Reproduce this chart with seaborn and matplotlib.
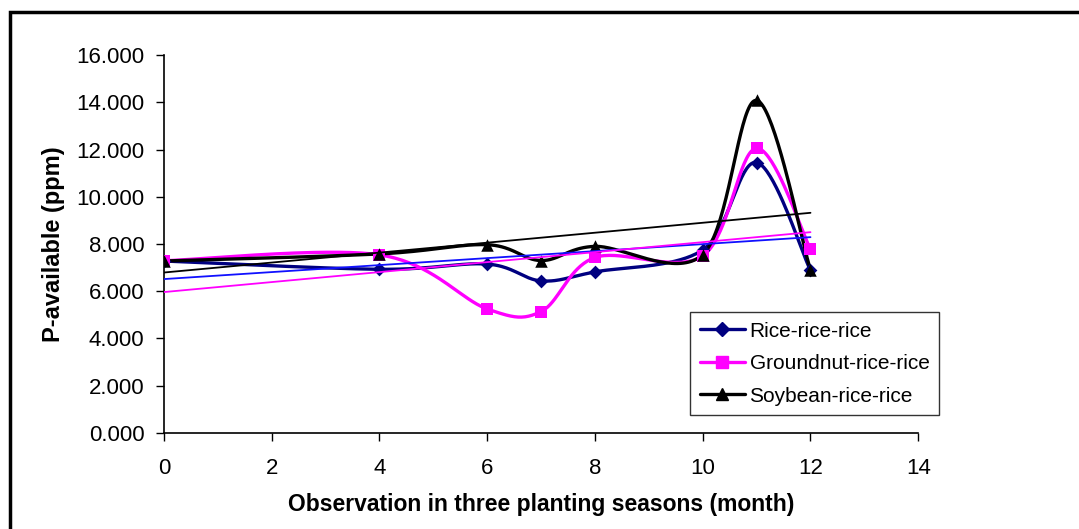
import numpy as np
import pandas as pd
import matplotlib
matplotlib.use("Agg")
import matplotlib.pyplot as plt
from matplotlib.lines import Line2D
from matplotlib.patches import Rectangle
import seaborn as sns

months = [0, 4, 6, 7, 8, 10, 11, 12]
rice = [7.28, 6.93, 7.15, 6.44, 6.82, 7.75, 11.45, 6.88]
groundnut = [7.29, 7.54, 5.25, 5.14, 7.43, 7.50, 12.05, 7.78]
soybean = [7.28, 7.58, 7.97, 7.30, 7.90, 7.55, 14.08, 6.90]
series_names = ["Rice-rice-rice", "Groundnut-rice-rice", "Soybean-rice-rice"]
series_values = [rice, groundnut, soybean]
line_colors = ["#000080", "#FF00FF", "#000000"]
trend_colors = ["#1010FF", "#FF00FF", "#000000"]
markers = ["D", "s", "^"]
marker_sizes = [7, 9, 9]
x_ticks = [0, 2, 4, 6, 8, 10, 12, 14]
y_ticks = [0, 2, 4, 6, 8, 10, 12, 14, 16]

sns.set_theme(style="white")
plt.rcParams["font.family"] = ["Liberation Sans", "DejaVu Sans"]
plt.rcParams["text.color"] = "black"
plt.rcParams["axes.labelcolor"] = "black"
plt.rcParams["xtick.color"] = "black"
plt.rcParams["ytick.color"] = "black"


def smooth(xs, ys, n=40):
    P = np.column_stack([xs, ys]).astype(float)
    m = len(P)
    ext = np.vstack([P[0], P, P[-1]])
    out = []
    t = np.linspace(0, 1, n)
    for i in range(m - 1):
        p0, p1, p2, p3 = ext[i], ext[i + 1], ext[i + 2], ext[i + 3]
        c1 = p1 + (p2 - p0) / 6.0
        c2 = p2 - (p3 - p1) / 6.0
        seg = ((1 - t) ** 3)[:, None] * p1 + (3 * (1 - t) ** 2 * t)[:, None] * c1 \
            + (3 * (1 - t) * t ** 2)[:, None] * c2 + (t ** 3)[:, None] * p2
        out.append(seg if i == 0 else seg[1:])
    out = np.vstack(out)
    return out[:, 0], out[:, 1]


fig = plt.figure(figsize=(10.79, 5.29), dpi=100)
ax = fig.add_axes([0.152, 0.1815, 0.699, 0.7145])

handles = []
for name, vals, lc, mk, ms in zip(series_names, series_values, line_colors, markers, marker_sizes):
    sx, sy = smooth(months, vals)
    df = pd.DataFrame({"x": sx, "y": sy})
    sns.lineplot(data=df, x="x", y="y", sort=False, estimator=None, color=lc,
                 linewidth=2.4, ax=ax, zorder=3)
    dfp = pd.DataFrame({"x": months, "y": vals})
    sns.scatterplot(data=dfp, x="x", y="y", marker=mk, color=lc, s=ms ** 2,
                    edgecolor=lc, linewidth=0, ax=ax, zorder=4)
    handles.append(Line2D([0], [0], color=lc, lw=2.4, marker=mk, markersize=ms,
                          markeredgecolor=lc, label=name))

for vals, tc in zip(series_values, trend_colors):
    dfp = pd.DataFrame({"x": months, "y": vals})
    sns.regplot(data=dfp, x="x", y="y", scatter=False, ci=None, truncate=True,
                line_kws={"color": tc, "linewidth": 1.3, "zorder": 5}, ax=ax)

ax.set_xlim(0, 14)
ax.set_ylim(0, 16)
ax.set_xticks(x_ticks)
ax.set_yticks(y_ticks)
ax.set_xticklabels([str(v) for v in x_ticks], fontsize=16)
ax.set_yticklabels([f"{v:.3f}" for v in y_ticks], fontsize=16)
ax.tick_params(axis="both", direction="out", length=6, width=1, color="black",
               bottom=True, left=True, pad=8)
ax.tick_params(axis="x", pad=12)
for s in ["top", "right"]:
    ax.spines[s].set_visible(False)
for s in ["left", "bottom"]:
    ax.spines[s].set_color("black")
    ax.spines[s].set_linewidth(1.2)
ax.set_xlabel("Observation in three planting seasons (month)", fontsize=16.5,
              fontweight="bold", labelpad=10)
ax.set_ylabel("P-available (ppm)", fontsize=17, fontweight="bold", labelpad=8)

leg = ax.legend(handles=handles, loc="lower left", bbox_to_anchor=(0.6976, 0.0476),
                fontsize=15, frameon=True, fancybox=False, handlelength=2.2,
                handletextpad=0.2, borderpad=0.45, labelspacing=0.65, borderaxespad=0)
leg.get_frame().set_edgecolor("black")
leg.get_frame().set_linewidth(1.0)
for t in leg.get_texts():
    t.set_color("black")

fig.patches.append(Rectangle((10 / 1079, -0.2), 1.2, 1 - 12 / 529 + 0.2,
                             transform=fig.transFigure, fill=False,
                             edgecolor="black", linewidth=2.5))

fig.savefig("out.png", dpi=100)
